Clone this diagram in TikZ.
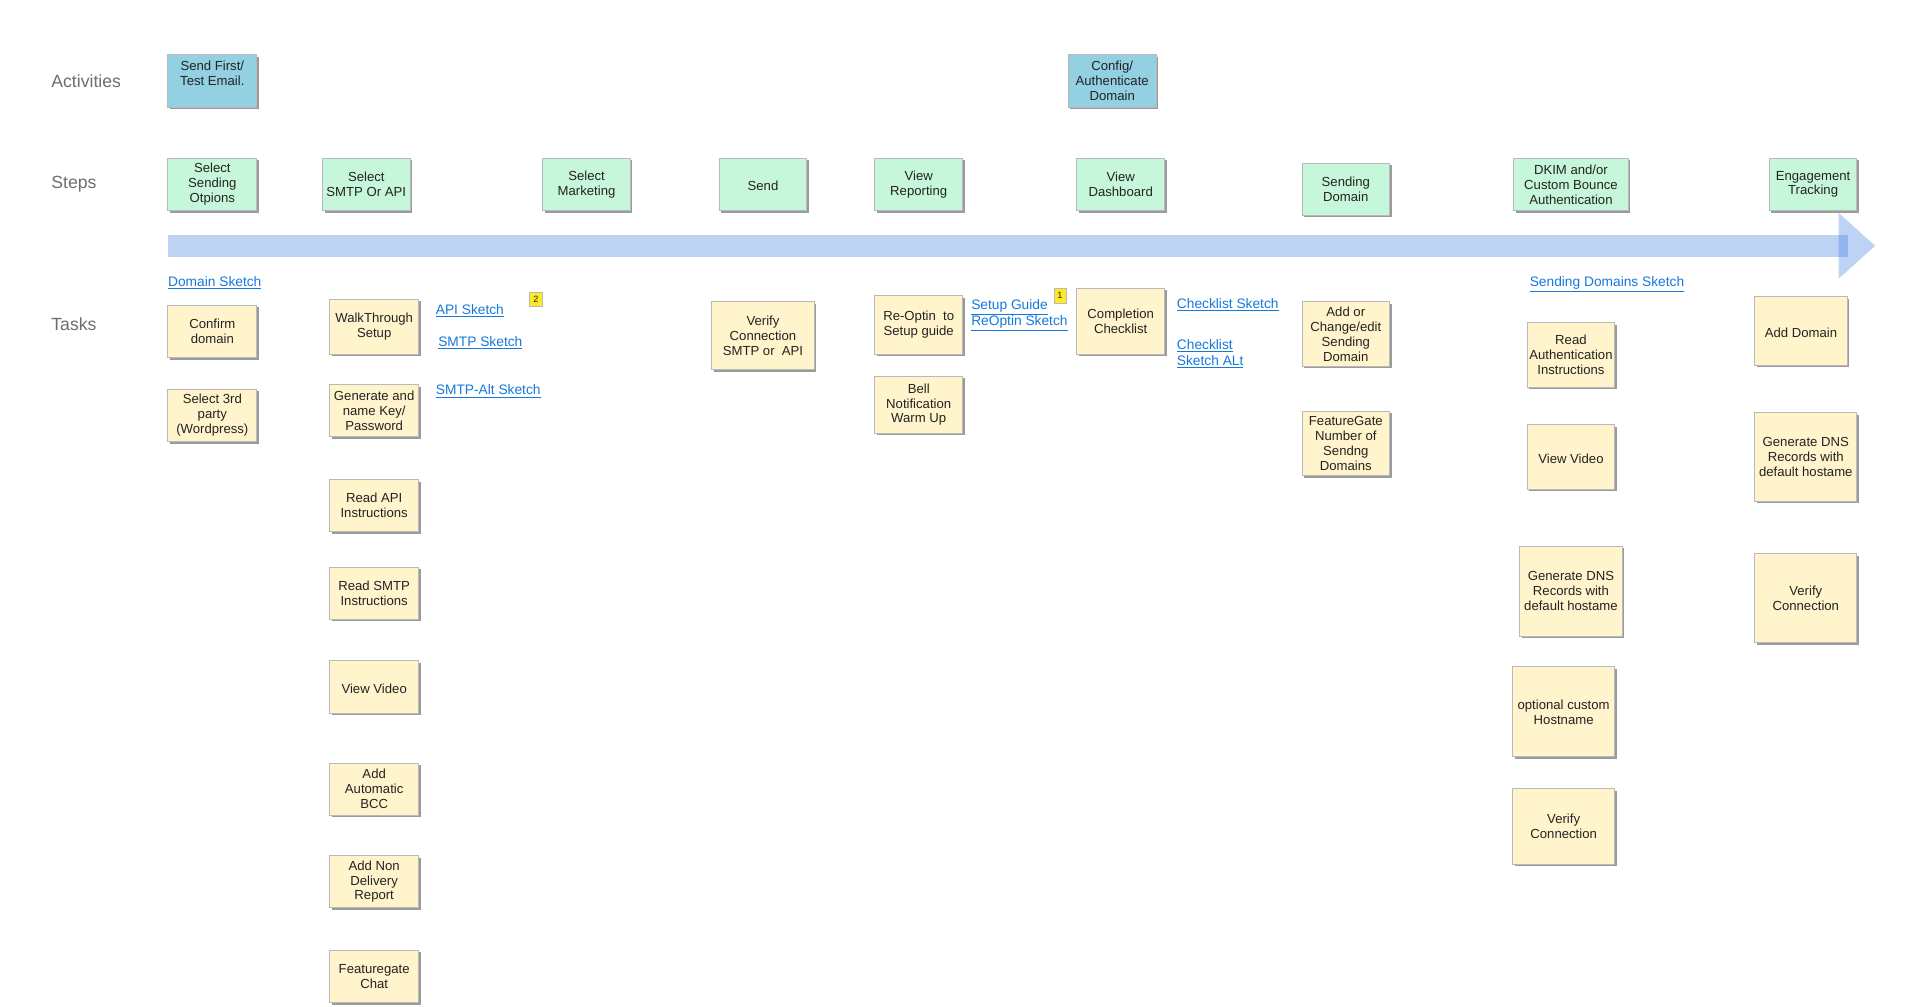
\documentclass[tikz,border=0pt]{standalone}
\usepackage{fontspec}
\setmainfont{Liberation Sans}
\usetikzlibrary{shadows}
\definecolor{actblue}{RGB}{146,208,226}
\definecolor{stepgreen}{RGB}{198,247,218}
\definecolor{taskyellow}{RGB}{255,244,204}
\definecolor{boxborder}{RGB}{185,185,185}
\definecolor{shadowgray}{RGB}{155,155,155}
\definecolor{linkblue}{RGB}{20,120,220}
\definecolor{labelgray}{RGB}{110,110,110}
\definecolor{textdark}{RGB}{35,35,35}
\definecolor{arrowblue}{RGB}{40,110,220}
\definecolor{badgeyellow}{RGB}{255,232,40}
\begin{document}
\begin{tikzpicture}[x=1pt,y=-1pt,
  boxbase/.style={draw=boxborder, line width=0.7pt, align=center, text=textdark,
    font=\fontsize{10.8}{12.3}\selectfont, inner sep=1pt,
    execute at begin node={\rule{0pt}{10.3pt}},
    general shadow={fill=shadowgray, draw=none, shadow xshift=1.7pt, shadow yshift=-1.7pt}},
  actbox/.style={boxbase, fill=actblue},
  stepbox/.style={boxbase, fill=stepgreen},
  taskbox/.style={boxbase, fill=taskyellow},
  rowlabel/.style={anchor=west, text=labelgray, font=\fontsize{14.5}{16}\selectfont, inner sep=0pt},
  linklabel/.style={anchor=west, text=linkblue, font=\fontsize{11.3}{13}\selectfont, inner sep=0pt, align=left},
  badge/.style={draw=boxborder, fill=badgeyellow, font=\fontsize{7.5}{8}\selectfont, text=textdark, inner sep=0pt, minimum width=10pt, minimum height=12pt}
]
\path[use as bounding box] (0,0) rectangle (1568,827);

% row labels
\node[rowlabel] (lact) at (42,67) {Activities};
\node[rowlabel] (lstep) at (42,151.5) {Steps};
\node[rowlabel] (ltask) at (42,266.5) {Tasks};

% timeline arrow
\fill[arrowblue, opacity=0.3] (138,193) rectangle (1519,211);
\fill[arrowblue, opacity=0.3] (1511,175) -- (1541,202) -- (1511,229) -- cycle;

% activities
\node[actbox, minimum width=73pt, minimum height=43pt] (a1) at (174.5,66.5) {Send First/\\Test Email.\\\mbox{}};
\node[actbox, minimum width=72pt, minimum height=43pt] (a2) at (914,66.5) {Config/\\Authenticate\\Domain};

% steps
\node[stepbox, minimum width=73pt, minimum height=43pt] (s1) at (174.5,151.5) {Select\\Sending\\Otpions};
\node[stepbox, minimum width=72pt, minimum height=43pt] (s2) at (301,151.5) {Select\\SMTP Or API};
\node[stepbox, minimum width=72pt, minimum height=43pt] (s3) at (482,151.5) {Select\\Marketing};
\node[stepbox, minimum width=72pt, minimum height=43pt] (s4) at (627,151.5) {Send};
\node[stepbox, minimum width=72pt, minimum height=43pt] (s5) at (755,151.5) {View\\Reporting};
\node[stepbox, minimum width=72pt, minimum height=43pt] (s6) at (921,151.5) {View\\Dashboard};
\node[stepbox, minimum width=72pt, minimum height=43pt] (s7) at (1106,155.5) {Sending\\Domain};
\node[stepbox, minimum width=94pt, minimum height=43pt] (s8) at (1291,151.5) {DKIM and/or\\Custom Bounce\\Authentication};
\node[stepbox, minimum width=72pt, minimum height=43pt] (s9) at (1490,151.5) {Engagement\\Tracking};

% tasks column 1
\node[linklabel] (k1) at (138,232.5) {\underline{Domain Sketch}};
\node[taskbox, minimum width=73pt, minimum height=43pt] (t11) at (174.5,272.5) {Confirm\\domain};
\node[taskbox, minimum width=73pt, minimum height=43pt] (t12) at (174.5,341.5) {Select 3rd\\party\\(Wordpress)};

% tasks column 2
\node[taskbox, minimum width=73pt, minimum height=45pt] (t21) at (307.5,268.5) {WalkThrough\\Setup};
\node[taskbox, minimum width=73pt, minimum height=43pt] (t22) at (307.5,337.5) {Generate and\\name Key/\\Password};
\node[taskbox, minimum width=73pt, minimum height=43pt] (t23) at (307.5,415.5) {Read API\\Instructions};
\node[taskbox, minimum width=73pt, minimum height=43pt] (t24) at (307.5,487.5) {Read SMTP\\Instructions};
\node[taskbox, minimum width=73pt, minimum height=43pt] (t25) at (307.5,564.5) {View Video};
\node[taskbox, minimum width=73pt, minimum height=43pt] (t26) at (307.5,648.5) {Add\\Automatic\\BCC};
\node[taskbox, minimum width=73pt, minimum height=43pt] (t27) at (307.5,724.5) {Add Non\\Delivery\\Report};
\node[taskbox, minimum width=73pt, minimum height=43pt] (t28) at (307.5,802.5) {Featuregate\\Chat};
\node[linklabel] (k2) at (358,255.5) {\underline{API Sketch}};
\node[linklabel] (k3) at (360,281.5) {\underline{SMTP Sketch}};
\node[linklabel] (k4) at (358,321.5) {\underline{SMTP-Alt Sketch}};
\node[badge, minimum width=11pt] (b2) at (440.5,246) {2};

% send
\node[taskbox, minimum width=84pt, minimum height=56pt] (t41) at (627,276) {Verify\\Connection\\SMTP or~ API};

% view reporting
\node[taskbox, minimum width=72pt, minimum height=48pt] (t51) at (755,267) {Re-Optin~ to\\Setup guide};
\node[taskbox, minimum width=72pt, minimum height=47pt] (t52) at (755,332.5) {Bell\\Notification\\Warm Up};
\node[linklabel] (k5) at (798,252.5) {\underline{Setup Guide}};
\node[linklabel] (k6) at (798,265.5) {\underline{ReOptin Sketch}};
\node[badge] (b1) at (871,243) {1};

% view dashboard
\node[taskbox, minimum width=72pt, minimum height=54pt] (t61) at (921,264) {Completion\\Checklist};
\node[linklabel] (k7) at (967,250.5) {\underline{Checklist Sketch}};
\node[linklabel] (k8) at (967,291) {\underline{Checklist}\\\underline{Sketch ALt}};

% sending domain
\node[taskbox, minimum width=72pt, minimum height=53pt] (t71) at (1106,274.5) {Add or\\Change/edit\\Sending\\Domain};
\node[taskbox, minimum width=72pt, minimum height=53pt] (t72) at (1106,364.5) {FeatureGate\\Number of\\Sendng\\Domains};

% dkim
\node[linklabel] (k9) at (1257,233.5) {\underline{Sending Domains Sketch}};
\node[taskbox, minimum width=72pt, minimum height=53pt] (t81) at (1291,291.5) {Read\\Authentication\\Instructions};
\node[taskbox, minimum width=72pt, minimum height=53pt] (t82) at (1291,375.5) {View Video};
\node[taskbox, minimum width=84pt, minimum height=74pt] (t83) at (1291,486) {Generate DNS\\Records with\\default hostame};
\node[taskbox, minimum width=84pt, minimum height=74pt] (t84) at (1285,585) {optional custom\\Hostname};
\node[taskbox, minimum width=84pt, minimum height=62pt] (t85) at (1285,679) {Verify\\Connection};

% engagement
\node[taskbox, minimum width=76pt, minimum height=56pt] (t91) at (1480,272) {Add Domain};
\node[taskbox, minimum width=84pt, minimum height=73pt] (t92) at (1484,375.5) {Generate DNS\\Records with\\default hostame};
\node[taskbox, minimum width=84pt, minimum height=73pt] (t93) at (1484,491.5) {Verify\\Connection};
\end{tikzpicture}
\end{document}
